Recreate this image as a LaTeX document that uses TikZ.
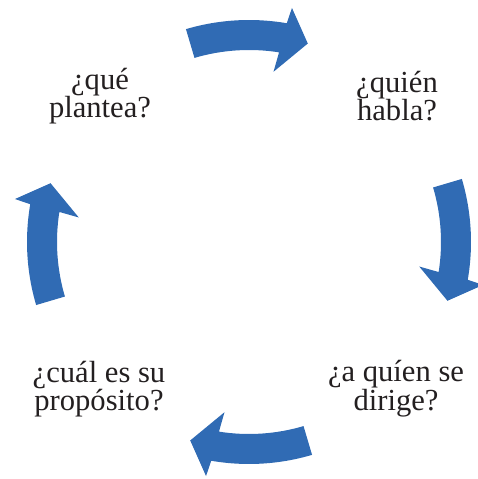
\documentclass[tikz,border=0pt]{standalone}
\usepackage{fontspec}
\setmainfont{Liberation Serif}
\definecolor{arrowblue}{RGB}{48,107,180}
\definecolor{textdark}{RGB}{35,31,32}
\newcommand\cyclearrow[1]{%
  \fill[arrowblue]
    ({#1+16.5}:222) arc[start angle={#1+16.5}, end angle={#1-9.8}, radius=222]
    -- ({#1-10.4}:238) -- ({#1-16.5}:207) -- ({#1-8.2}:172) -- ({#1-9}:192)
    arc[start angle={#1-9}, end angle={#1+16.5}, radius=192] -- cycle;}
\begin{document}
\begin{tikzpicture}[x=1pt,y=1pt,
  label/.style={text=textdark, align=center, inner sep=0pt,
    font=\fontsize{30.6}{26}\selectfont}]
\useasboundingbox (0,0) rectangle (477,479);
\begin{scope}[shift={(249,237)}]
  \cyclearrow{90}
  \cyclearrow{0}
  \cyclearrow{270}
  \cyclearrow{180}
\end{scope}
\node[label] (q1) at (100,383) {¿qué\\plantea?};
\node[label] (q2) at (397,383) {¿quién\\habla?};
\node[label] (q3) at (396,90) {¿a quíen se\\dirige?};
\node[label] (q4) at (99,90) {¿cuál es su\\propósito?};
\end{tikzpicture}
\end{document}
